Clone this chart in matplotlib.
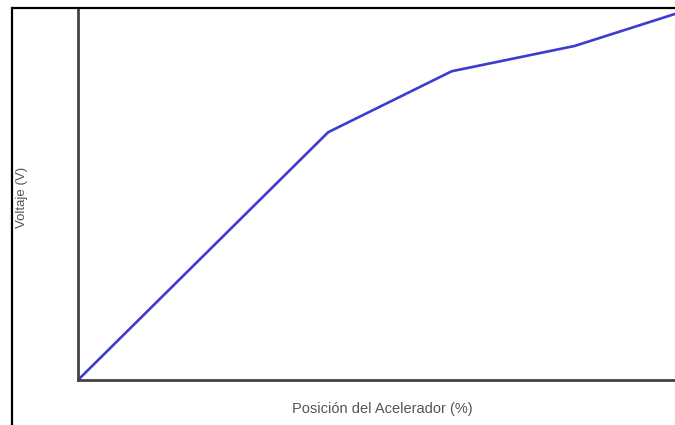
import matplotlib.pyplot as plt
from matplotlib.patches import Rectangle

# acelerador (%) vs voltaje (V)
posicion = [0, 41.9, 62.6, 83.2, 100]
voltaje = [0, 3.33, 4.15, 4.49, 4.92]

plt.rcParams['font.family'] = ['Liberation Sans', 'DejaVu Sans']

fig = plt.figure(figsize=(6.75, 4.25), dpi=100)

# marco exterior (cortado a la derecha y abajo)
fig.patches.append(Rectangle((12 / 675, -0.1), 1.2, (425 - 8.5) / 425 + 0.1,
                             transform=fig.transFigure, fill=False,
                             edgecolor='black', linewidth=1.6))

ax = fig.add_axes([78 / 675, 45 / 425, 597 / 675, 372 / 425])
ax.plot(posicion, voltaje, color='#3c3cd0', linewidth=1.9, solid_capstyle='round')
ax.set_xlim(0, 100)
ax.set_ylim(0, 5)
ax.set_xticks([])
ax.set_yticks([])
for s in ['top', 'right']:
    ax.spines[s].set_visible(False)
for s in ['left', 'bottom']:
    ax.spines[s].set_color('#444444')
    ax.spines[s].set_linewidth(2)

fig.text(382 / 675, 1 - 409 / 425, 'Posición del Acelerador (%)', ha='center', va='center',
         fontsize=10.5, color='#555555')
fig.text(22 / 675, 1 - 197 / 425, 'Voltaje (V)', ha='center', va='center',
         rotation=90, fontsize=9.5, color='#555555')

fig.savefig('out.png', dpi=100)
